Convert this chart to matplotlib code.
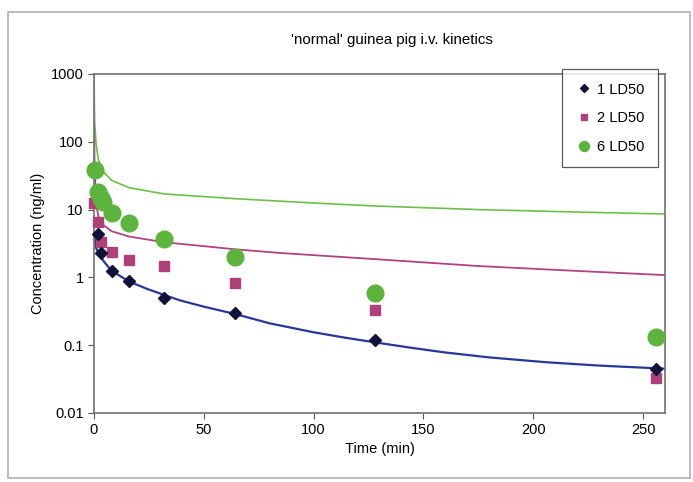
import matplotlib.pyplot as plt
from matplotlib.patches import Rectangle

plt.rcParams['font.family'] = ['Liberation Sans', 'DejaVu Sans']

# measured points (time in min, concentration in ng/ml)
t_1ld = [2, 3, 8, 16, 32, 64, 128, 256]
c_1ld = [4.3, 2.3, 1.25, 0.88, 0.5, 0.3, 0.12, 0.045]

t_2ld = [0, 2, 3, 8, 16, 32, 64, 128, 256]
c_2ld = [12.5, 6.6, 3.3, 2.4, 1.8, 1.45, 0.82, 0.33, 0.033]

t_6ld = [0.5, 2, 3, 4, 8, 16, 32, 64, 128, 256]
c_6ld = [38, 18, 15, 13, 9, 6.3, 3.7, 2.0, 0.59, 0.13]

# fitted curves
fit_t_1 = [0.3, 1, 2, 4, 8, 16, 24, 32, 39, 50, 64, 80, 100, 115, 128, 145, 160, 180, 206, 230, 260]
fit_c_1 = [4.0, 2.7, 2.3, 1.8, 1.25, 0.87, 0.68, 0.55, 0.46, 0.37, 0.29, 0.21, 0.155, 0.128, 0.11,
           0.091, 0.078, 0.066, 0.056, 0.05, 0.045]

fit_t_2 = [0, 0.3, 1, 2, 4, 8, 16, 32, 64, 84, 130, 175, 221, 260]
fit_c_2 = [200, 40, 12, 8, 6, 4.8, 4.0, 3.3, 2.6, 2.3, 1.84, 1.47, 1.24, 1.08]

fit_t_6 = [0, 0.3, 1, 2, 4, 8, 16, 32, 64, 100, 128, 175, 220, 260]
fit_c_6 = [1000, 200, 90, 55, 37, 27, 21, 17, 14.5, 12.5, 11.3, 10, 9.2, 8.6]

fig = plt.figure(figsize=(6.93, 4.82), dpi=100)
fig.patches.append(Rectangle((0.011, 0.008), 0.985, 0.968, transform=fig.transFigure,
                             fill=False, edgecolor='#b0b0b0', linewidth=1.2))
ax = fig.add_axes([0.1356, 0.1432, 0.824, 0.7033])

ax.plot(fit_t_6, fit_c_6, color='#6cc04a', linewidth=1.2, zorder=2)
ax.plot(fit_t_2, fit_c_2, color='#b0447e', linewidth=1.3, zorder=2)
ax.plot(fit_t_1, fit_c_1, color='#28389a', linewidth=1.6, zorder=2)

ax.plot(t_1ld, c_1ld, linestyle='none', marker='D', markersize=6.5,
        color='#101238', label='1 LD50', zorder=4, clip_on=False)
ax.plot(t_2ld, c_2ld, linestyle='none', marker='s', markersize=7.5,
        color='#b0407a', label='2 LD50', zorder=3, clip_on=False)
ax.plot(t_6ld, c_6ld, linestyle='none', marker='o', markersize=12,
        color='#5cb43c', label='6 LD50', zorder=3, clip_on=False)

ax.set_yscale('log')
ax.set_ylim(0.01, 1000)
ax.set_xlim(0, 260)
ax.set_xticks([0, 50, 100, 150, 200, 250])
ax.set_yticks([0.01, 0.1, 1, 10, 100, 1000])
ax.set_yticklabels(['0.01', '0.1', '1', '10', '100', '1000'])
ax.minorticks_off()
ax.tick_params(direction='out', labelsize=10.5, length=4, color='#555555')

for s in ax.spines.values():
    s.set_color('#707070')
    s.set_linewidth(1.2)

ax.set_xlabel('Time (min)', fontsize=10.5, labelpad=3)
ax.set_ylabel('Concentration (ng/ml)', fontsize=10.5, labelpad=4)
fig.text(0.566, 0.917, "'normal' guinea pig i.v. kinetics", fontsize=10.8,
         ha='center', va='center')

leg = ax.legend(loc='upper right', bbox_to_anchor=(1.0, 1.035), fontsize=10.5,
                fancybox=False, edgecolor='#333333', markerscale=0.6,
                handletextpad=0.3, borderpad=0.9, labelspacing=1.0, handlelength=1.2)
leg.get_frame().set_linewidth(0.9)

plt.savefig('out.png', dpi=100)
